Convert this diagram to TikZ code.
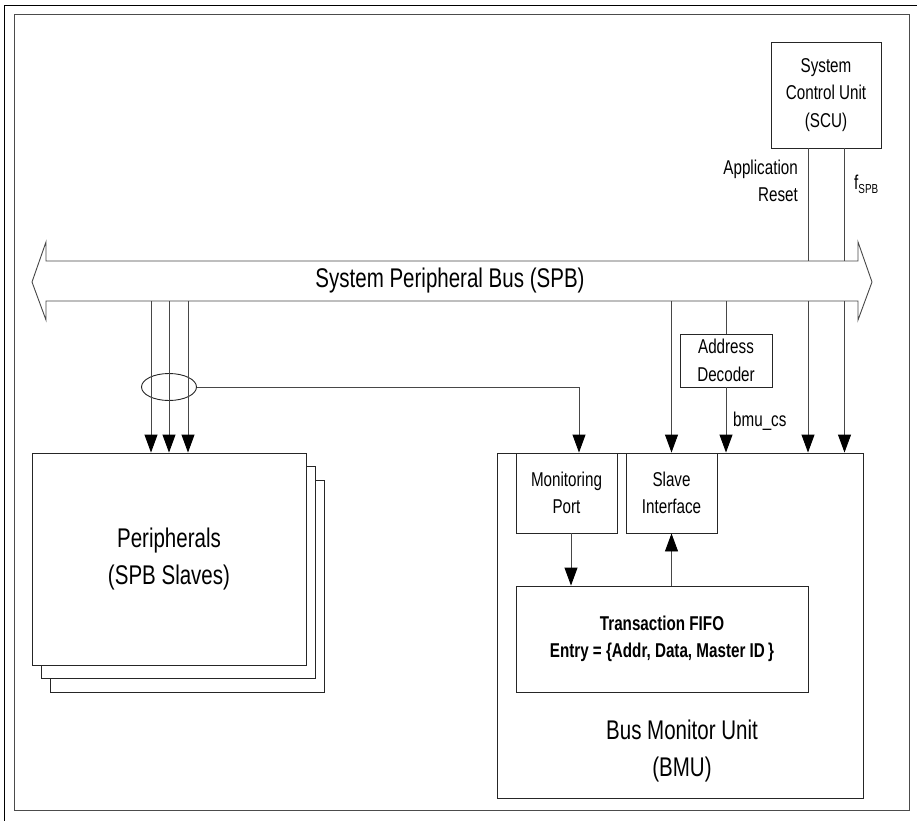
\documentclass[tikz,border=0pt]{standalone}
\usepackage{fontspec}
\setmainfont{Liberation Sans}[FakeStretch=0.76]
\usetikzlibrary{arrows.meta,calc,shapes.geometric}
\begin{document}
\begin{tikzpicture}[x=1pt,y=-1pt,
  box/.style={draw=black!85, line width=0.9pt, fill=white, inner sep=0pt, align=center},
  small/.style={font=\fontsize{20}{27.5}\selectfont, align=center},
  big/.style={font=\fontsize{27}{37}\selectfont, align=center},
  conn/.style={draw=black!72, line width=0.9pt},
  arr/.style={conn, -{Triangle[width=13pt,length=18pt,color=black]}}]
\useasboundingbox (0,0) rectangle (917,821);
% frames
\draw[black, line width=1pt] (917,6) -- (4,6) -- (4,821);
\draw[black!70, line width=1pt] (14,15) rectangle (909,810);
% bus
\draw[conn, fill=white] (46,261) -- (858,261) -- (858,242) -- (872,282) -- (858,320) -- (858,301)
  -- (46,301) -- (46,320) -- (32,282) -- (46,242) -- cycle;
\node[big] (buslbl) at (450,281) {System Peripheral Bus (SPB)};
\coordinate (busT) at (452,261);
\coordinate (busB) at (452,301);
% SCU
\node[box, small, minimum width=110pt, minimum height=106pt] (scu) at (826,95) {System\\Control Unit\\(SCU)};
\node[small, align=right, anchor=east, inner sep=0pt] (rst) at (798,181) {Application\\Reset};
\node[small, anchor=west, inner sep=0pt] (fspb) at (854,184) {f\raisebox{-4pt}{\fontsize{13}{13}\selectfont SPB}};
% peripherals
\node[box, minimum width=274pt, minimum height=212pt] (per3) at (187.5,586) {};
\node[box, minimum width=274pt, minimum height=212pt] (per2) at (178,572.5) {};
\node[box, big, minimum width=274pt, minimum height=212pt] (per) at (169,559) {Peripherals\\(SPB Slaves)};
% BMU
\node[box, minimum width=366pt, minimum height=345pt] (bmu) at (680,625.5) {};
\node[big] (bmulbl) at (682,751) {Bus Monitor Unit\\(BMU)};
\node[box, small, minimum width=101pt, minimum height=80pt] (mon) at (566.5,493) {Monitoring\\Port};
\node[box, small, minimum width=91pt, minimum height=80pt] (slv) at (671.5,493) {Slave\\Interface};
\node[box, small, minimum width=292pt, minimum height=106pt, font=\fontsize{20}{27.5}\selectfont\bfseries] (fifo) at (662,639)
  {Transaction FIFO\\Entry = \{Addr, Data, Master ID\,\}};
% address decoder
\node[box, small, minimum width=92pt, minimum height=53pt] (dec) at (726,360.5) {Address\\Decoder};
\node[small, anchor=west, inner sep=0pt] (cs) at (733,421) {bmu\_cs};
% grouping ellipse
\node[draw=black!85, line width=0.9pt, ellipse, minimum width=55pt, minimum height=27pt, inner sep=0pt] (grp) at (169,387) {};
% connectors
\draw[conn] ([xshift=-18pt]scu.south) -- ([xshift=-18pt]scu.south |- busT);
\draw[conn] ([xshift=18pt]scu.south) -- ([xshift=18pt]scu.south |- busT);
\draw[arr] ([xshift=-18pt]scu.south |- busB) -- ([xshift=-18pt]scu.south |- bmu.north);
\draw[arr] ([xshift=18.5pt]scu.south |- busB) -- ([xshift=18.5pt]scu.south |- bmu.north);
\foreach \dx in {-18,0,19} \draw[arr] ([xshift=\dx pt]per.north |- busB) -- ([xshift=\dx pt]per.north);
\draw[arr] (grp.east) -| ([xshift=12.5pt]mon.north);
\draw[conn] (dec.north |- busB) -- (dec.north);
\draw[arr] (dec.south) -- (dec.south |- bmu.north);
\draw[arr] (slv.north |- busB) -- (slv.north);
\draw[arr] ([xshift=4.5pt]mon.south) -- ([xshift=4.5pt]mon.south |- fifo.north);
\draw[arr] (slv.south |- fifo.north) -- (slv.south);
\end{tikzpicture}
\end{document}
